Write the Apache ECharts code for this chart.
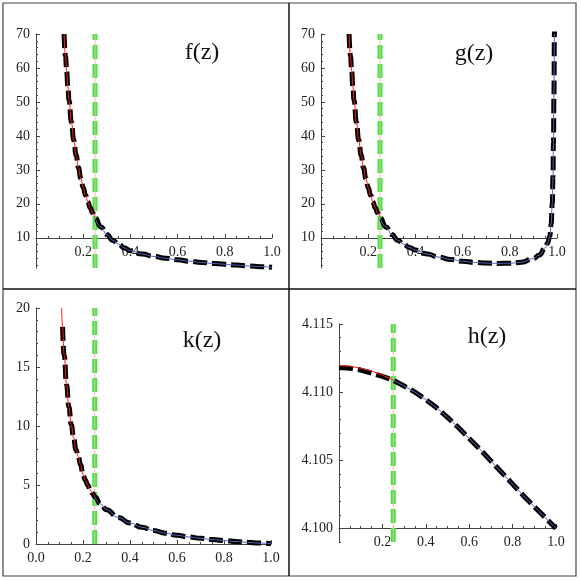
<!DOCTYPE html>
<html>
<head>
<meta charset="utf-8">
<script src="https://cdn.jsdelivr.net/npm/echarts@6/dist/echarts.min.js"></script>
<style>
html, body { margin: 0; padding: 0; background: #fff; }
#main { width: 581px; height: 581px; }
</style>
</head>
<body>
<div id="main"></div>
<script>
// matching point (green line)
const zMatch = 0.25;

// f(z)
const fZ = [0.119, 0.125, 0.13, 0.135, 0.14, 0.15, 0.16, 0.17, 0.18, 0.19, 0.2, 0.21, 0.22, 0.23, 0.24, 0.25,
  0.275, 0.3, 0.325, 0.35, 0.375, 0.4, 0.45, 0.5, 0.55, 0.6, 0.65, 0.7, 0.75, 0.8, 0.85, 0.9, 0.95, 1.0];
const fY = [70, 63.5, 59, 54.5, 50.5, 44, 38.7, 34.3, 30.6, 27.5, 24.8, 22.5, 20.5, 18.8, 17.3, 16,
  13.2, 11.0, 9.3, 8.1, 7.0, 6.2, 5.2, 4.5, 3.95, 3.5, 3.1, 2.75, 2.45, 2.2, 1.95, 1.7, 1.5, 1.3];

// g(z)
const gZ = [0.119, 0.125, 0.13, 0.135, 0.14, 0.15, 0.16, 0.17, 0.18, 0.19, 0.2, 0.21, 0.22, 0.23, 0.24, 0.25,
  0.275, 0.3, 0.325, 0.35, 0.375, 0.4, 0.45, 0.5, 0.55, 0.6, 0.65, 0.7, 0.75, 0.8, 0.85, 0.9, 0.925, 0.95, 0.96,
  0.97, 0.975, 0.98, 0.983, 0.985, 0.987, 0.989, 0.99];
const gY = [70, 63.5, 59, 54.5, 50.5, 44, 38.7, 34.3, 30.6, 27.5, 24.8, 22.5, 20.5, 18.8, 17.3, 16,
  13.2, 11.0, 9.3, 8.1, 7.1, 6.4, 5.2, 4.3, 3.6, 3.1, 2.75, 2.55, 2.45, 2.5, 2.8, 3.9, 4.9, 7.0, 8.4,
  10.5, 14, 20, 28, 38, 52, 70, 78];

// k(z)
const kRedZ = [0.109, 0.113, 0.12, 0.13, 0.14, 0.15, 0.16, 0.17, 0.18, 0.19, 0.2, 0.21, 0.22, 0.23, 0.24, 0.25];
const kRedY = [20, 18.4, 16, 13.5, 11.6, 10.1, 9.0, 8.0, 7.4, 6.7, 5.9, 5.4, 5.0, 4.6, 4.3, 4.0];
const kZ = [0.113, 0.12, 0.13, 0.14, 0.15, 0.16, 0.17, 0.18, 0.19, 0.2, 0.21, 0.22, 0.23, 0.24, 0.25,
  0.275, 0.3, 0.35, 0.4, 0.45, 0.5, 0.55, 0.6, 0.65, 0.7, 0.75, 0.8, 0.85, 0.9, 0.95, 1.0];
const kY = [18.4, 16, 13.5, 11.6, 10.1, 9.0, 8.0, 7.4, 6.7, 5.9, 5.4, 5.0, 4.6, 4.3, 4.0,
  3.4, 2.9, 2.25, 1.78, 1.42, 1.15, 0.92, 0.74, 0.6, 0.48, 0.38, 0.29, 0.21, 0.14, 0.08, 0.03];

// h(z)
const hRedZ = [0, 0.05, 0.1, 0.15, 0.2, 0.25];
const hRedY = [4.11195, 4.1119, 4.11175, 4.11155, 4.11125, 4.11089];
const hZ = [0, 0.05, 0.1, 0.15, 0.2, 0.25, 0.3, 0.35, 0.4, 0.45, 0.5, 0.55, 0.6, 0.65, 0.7,
  0.75, 0.8, 0.85, 0.9, 0.95, 1.0];
const hY = [4.1118, 4.11176, 4.11162, 4.1114, 4.11115, 4.11087, 4.11045, 4.11, 4.10945, 4.10885,
  4.10815, 4.1074, 4.1066, 4.1058, 4.10495, 4.1041, 4.10325, 4.1024, 4.1016, 4.1008, 4.1];

// tick labels
const xLabels = [0.2, 0.4, 0.6, 0.8, 1.0];
const xLabelsK = [0, 0.2, 0.4, 0.6, 0.8, 1.0];
const xMinor = [0.05, 0.1, 0.15, 0.25, 0.3, 0.35, 0.45, 0.5, 0.55, 0.65, 0.7, 0.75, 0.85, 0.9, 0.95];
const fgLabels = [10, 20, 30, 40, 50, 60, 70];
const fgMinor = [2, 4, 6, 8, 12, 14, 16, 18, 22, 24, 26, 28, 32, 34, 36, 38, 42, 44, 46, 48,
  52, 54, 56, 58, 62, 64, 66, 68];
const kLabels = [0, 5, 10, 15, 20];
const kMinor = [1, 2, 3, 4, 6, 7, 8, 9, 11, 12, 13, 14, 16, 17, 18, 19];
const hLabels = [4.100, 4.105, 4.110, 4.115];
const hMinor = [4.099, 4.101, 4.102, 4.103, 4.104, 4.106, 4.107, 4.108, 4.109, 4.111, 4.112, 4.113, 4.114];

const pair = (zs, ys) => zs.map((z, i) => [z, ys[i]]);

const font = 'Liberation Serif';
const axisColor = '#444';
const labelStyle = { color: '#222', fontFamily: font, fontSize: 14 };

// panel layout
const panels = [
  { grid: { left: 36, top: 34, width: 236, height: 234 }, ymin: 1.1, ymax: 70, xOffset: -30,
    xLabels: xLabels, yLabels: fgLabels, yMinor: fgMinor, yFmt: v => String(v), smooth: true,
    black: pair(fZ, fY), red: pair(fZ, fY).filter(p => p[0] <= zMatch),
    title: 'f(z)', tx: 202, ty: 53 },
  { grid: { left: 321, top: 34, width: 236, height: 234 }, ymin: 1.1, ymax: 70, xOffset: -30,
    xLabels: xLabels, yLabels: fgLabels, yMinor: fgMinor, yFmt: v => String(v), smooth: true,
    black: pair(gZ, gY), red: pair(gZ, gY).filter(p => p[0] <= zMatch),
    title: 'g(z)', tx: 474, ty: 54 },
  { grid: { left: 36, top: 308, width: 235, height: 236 }, ymin: 0, ymax: 20, xOffset: 0,
    xLabels: xLabelsK, yLabels: kLabels, yMinor: kMinor, yFmt: v => String(v), smooth: true,
    black: pair(kZ, kY), red: pair(kRedZ, kRedY),
    title: 'k(z)', tx: 202, ty: 341 },
  { grid: { left: 339, top: 324, width: 217, height: 218 }, ymin: 4.099, ymax: 4.115, xOffset: -14,
    xLabels: xLabels, yLabels: hLabels, yMinor: hMinor, yFmt: v => v.toFixed(3), smooth: false,
    black: pair(hZ, hY), red: pair(hRedZ, hRedY),
    title: 'h(z)', tx: 487, ty: 337 }
];

const grids = [], xAxes = [], yAxes = [], series = [], graphics = [];

panels.forEach((p, i) => {
  grids.push(p.grid);
  // major x axis
  xAxes.push({
    gridIndex: i, type: 'value', min: 0, max: 1, position: 'bottom', offset: p.xOffset,
    axisLine: { show: true, onZero: false, lineStyle: { color: axisColor, width: 1 } },
    axisTick: { show: true, inside: true, length: 4, customValues: p.xLabels, lineStyle: { color: axisColor } },
    axisLabel: { ...labelStyle, margin: 7, customValues: p.xLabels, formatter: v => v.toFixed(1) },
    splitLine: { show: false }
  });
  // minor x ticks
  xAxes.push({
    gridIndex: i, type: 'value', min: 0, max: 1, position: 'bottom', offset: p.xOffset,
    axisLine: { show: false, onZero: false },
    axisTick: { show: true, inside: true, length: 2, customValues: xMinor, lineStyle: { color: axisColor } },
    axisLabel: { show: false },
    splitLine: { show: false }
  });
  // major y axis
  yAxes.push({
    gridIndex: i, type: 'value', min: p.ymin, max: p.ymax, position: 'left',
    axisLine: { show: true, onZero: false, lineStyle: { color: axisColor, width: 1 } },
    axisTick: { show: true, inside: true, length: 4, customValues: p.yLabels, lineStyle: { color: axisColor } },
    axisLabel: { ...labelStyle, margin: 6, customValues: p.yLabels, formatter: p.yFmt },
    splitLine: { show: false }
  });
  // minor y ticks
  yAxes.push({
    gridIndex: i, type: 'value', min: p.ymin, max: p.ymax, position: 'left',
    axisLine: { show: false, onZero: false },
    axisTick: { show: true, inside: true, length: 2, customValues: p.yMinor, lineStyle: { color: axisColor } },
    axisLabel: { show: false },
    splitLine: { show: false }
  });

  const xi = 2 * i, yi = 2 * i;
  const base = { type: 'line', xAxisIndex: xi, yAxisIndex: yi, showSymbol: false, symbol: 'none', silent: true, animation: false };
  const curve = { ...base, smooth: p.smooth, smoothMonotone: 'x' };
  // green matching line with thin pink core
  series.push({ ...base, data: [[zMatch, p.ymin], [zMatch, p.ymax]],
    lineStyle: { color: '#3fe83f', width: 5, type: [14, 5] } });
  series.push({ ...base, data: [[zMatch, p.ymin], [zMatch, p.ymax]],
    lineStyle: { color: '#ffb4b4', width: 1 } });
  // thick black dashed
  series.push({ ...curve, data: p.black,
    lineStyle: { color: '#000', width: 5, type: [14, 5] } });
  // thin red (small z) and blue (large z)
  series.push({ ...curve, data: p.red,
    lineStyle: { color: '#ff1a1a', width: 1 } });
  series.push({ ...curve, data: p.black.filter(q => q[0] >= zMatch),
    lineStyle: { color: '#5563b8', width: 1 } });

  graphics.push({
    type: 'text', x: p.tx, y: p.ty,
    style: { text: p.title, fill: '#111', font: '24px "' + font + '"', textAlign: 'center', textVerticalAlign: 'middle' }
  });
});

// panel frames
graphics.push({ type: 'rect', shape: { x: 3, y: 3, width: 573, height: 573 },
  style: { fill: 'none', stroke: '#444', lineWidth: 1.2 } });
graphics.push({ type: 'line', shape: { x1: 289, y1: 3, x2: 289, y2: 576 },
  style: { stroke: '#111', lineWidth: 1.5 } });
graphics.push({ type: 'line', shape: { x1: 3, y1: 289, x2: 576, y2: 289 },
  style: { stroke: '#111', lineWidth: 1.5 } });

const myChart = echarts.init(document.getElementById('main'), null, { renderer: 'canvas' });
myChart.setOption({
  animation: false,
  backgroundColor: '#fff',
  grid: grids,
  xAxis: xAxes,
  yAxis: yAxes,
  series: series,
  graphic: graphics
});
</script>
</body>
</html>
